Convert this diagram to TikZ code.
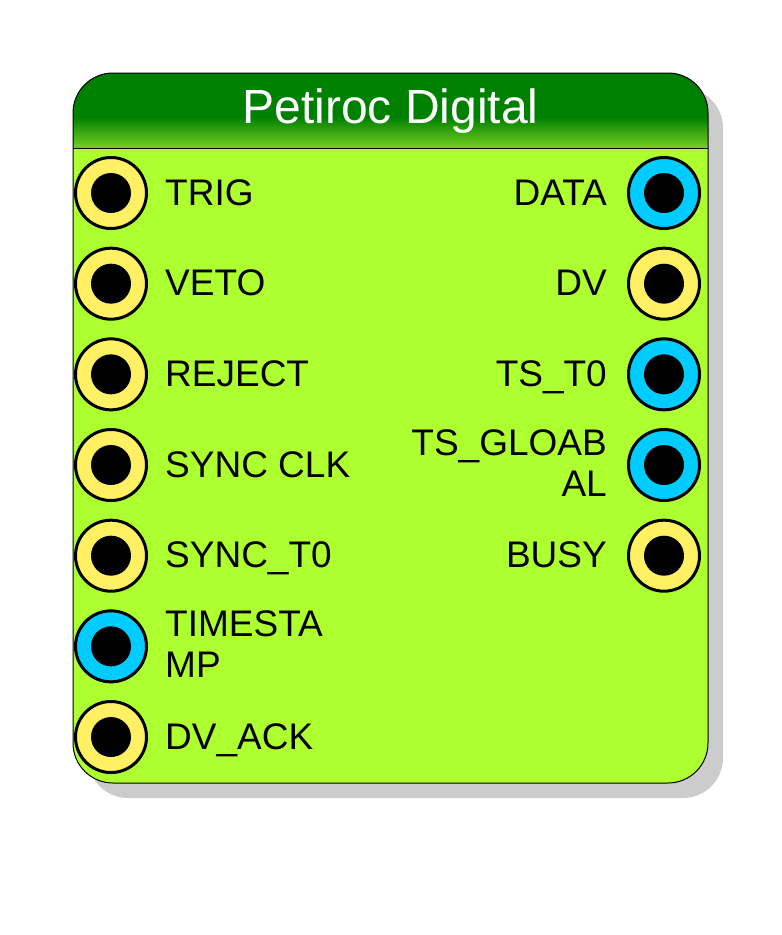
\documentclass[tikz,border=0pt]{standalone}
\usepackage{fontspec}
\setmainfont{Liberation Sans}
\definecolor{hdrdark}{RGB}{0,128,0}
\definecolor{hdrlight}{RGB}{118,208,36}
\definecolor{bodyfill}{RGB}{173,255,47}
\definecolor{ringy}{RGB}{255,240,100}
\definecolor{ringb}{RGB}{0,204,255}
\definecolor{shadowc}{RGB}{204,204,204}
\tikzset{
  port/.style={circle, draw=black, line width=3pt, minimum size=71pt, inner sep=0pt},
  yport/.style={port, fill=ringy},
  bport/.style={port, fill=ringb},
  lbl/.style={inner sep=0pt, font=\fontsize{37}{41}\selectfont, text=black},
}
\begin{document}
\begin{tikzpicture}[x=1pt,y=-1pt]
\useasboundingbox (0,0) rectangle (782,935);
% shadow
\fill[shadowc, rounded corners=40pt] (88,88) rectangle (723,798);
% body and header
\begin{scope}
\clip[rounded corners=40pt] (73,73) rectangle (708,783);
\fill[bodyfill] (73,73) rectangle (708,783);
\fill[hdrdark] (73,73) rectangle (708,148);
\shade[top color=hdrdark, bottom color=hdrlight] (73,117) rectangle (708,148);
\end{scope}
\draw[line width=1pt, rounded corners=40pt] (73,73) rectangle (708,783);
\draw[line width=1pt] (73,148) -- (708,148);
\node[anchor=base, inner sep=0pt, text=white, font=\fontsize{48}{56}\selectfont] (title) at (390.5,123) {Petiroc Digital};
% left ports
\foreach \n/\s in {1/yport,2/yport,3/yport,4/yport,5/yport,6/bport,7/yport}{
  \node[\s] (l\n) at (111,{193+90.67*(\n-1)}) {};
  \fill[black] (l\n.center) circle (20);
}
% right ports
\foreach \n/\s in {1/bport,2/yport,3/bport,4/bport,5/yport}{
  \node[\s] (r\n) at (664,{193+90.67*(\n-1)}) {};
  \fill[black] (r\n.center) circle (20);
}
% left labels
\node[lbl, anchor=base west] (tl1) at (165,205) {TRIG};
\node[lbl, anchor=base west] (tl2) at (165,295.7) {VETO};
\node[lbl, anchor=base west] (tl3) at (165,386.3) {REJECT};
\node[lbl, anchor=base west] (tl4) at (165,477) {SYNC CLK};
\node[lbl, anchor=base west] (tl5) at (165,567.7) {SYNC\_T0};
\node[lbl, anchor=west, align=left] (tl6) at (165,644) {TIMESTA\\MP};
\node[lbl, anchor=base west] (tl7) at (165,749) {DV\_ACK};
% right labels
\node[lbl, anchor=base east] (tr1) at (607,205) {DATA};
\node[lbl, anchor=base east] (tr2) at (607,295.7) {DV};
\node[lbl, anchor=base east] (tr3) at (607,386.3) {TS\_T0};
\node[lbl, anchor=east, align=right] (tr4) at (607,463) {TS\_GLOAB\\AL};
\node[lbl, anchor=base east] (tr5) at (607,567.7) {BUSY};
\end{tikzpicture}
\end{document}
